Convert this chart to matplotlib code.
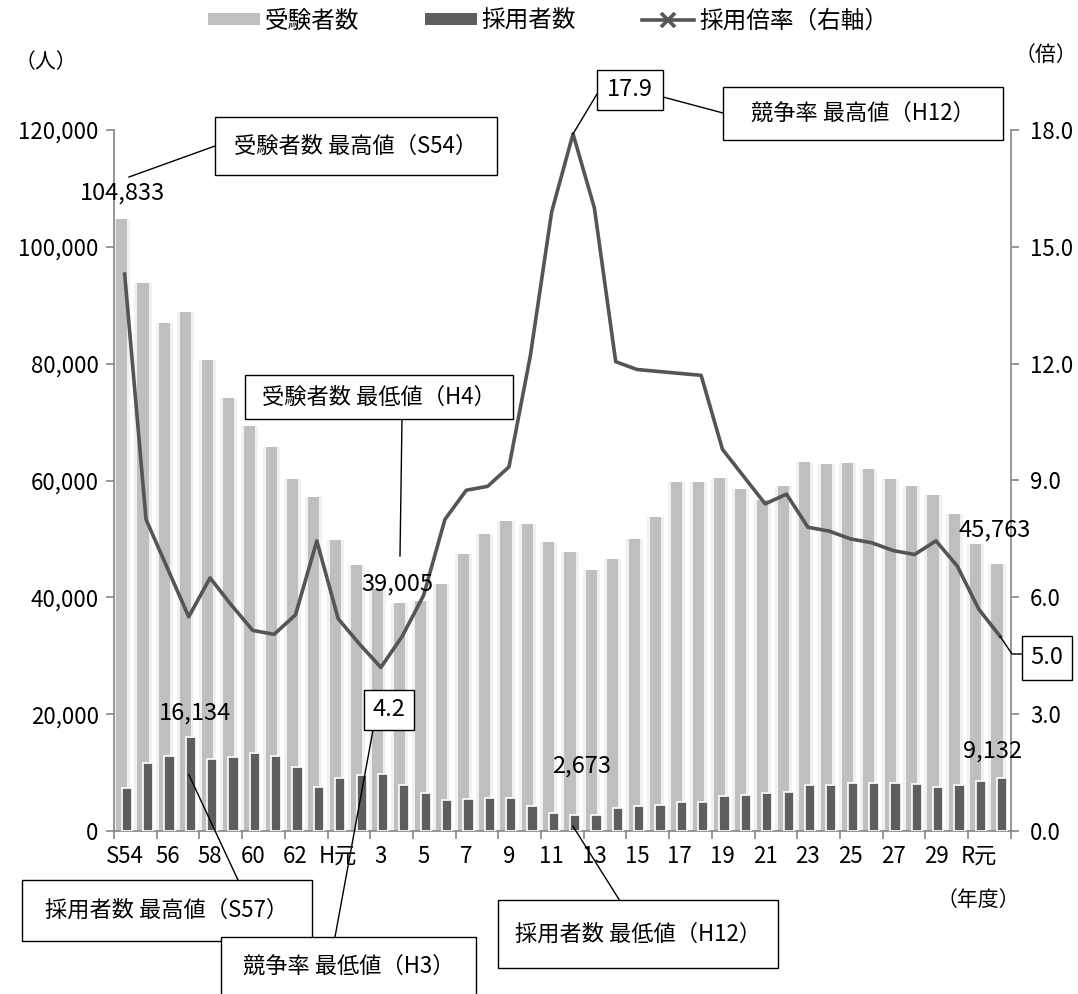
import numpy as np
import matplotlib
matplotlib.use("Agg")
import matplotlib.pyplot as plt
from matplotlib.patches import Patch, Rectangle
from matplotlib.lines import Line2D
from matplotlib.ticker import FuncFormatter

plt.rcParams["font.family"] = ["Noto Sans CJK JP", "DejaVu Sans"]
plt.rcParams["font.size"] = 15

# --- data (S54 ... R元, one value per year) ---
tick_labels = ["S54", "56", "58", "60", "62", "H元", "3", "5", "7", "9", "11",
               "13", "15", "17", "19", "21", "23", "25", "27", "29", "R元"]
applicants = [104833, 93800, 86900, 88900, 80600, 74200, 69300, 65700, 60300, 57100,
              49800, 45600, 41500, 39005, 39300, 42300, 47400, 50900, 53000, 52500,
              49500, 47800, 44700, 46500, 50000, 53800, 59800, 59800, 60500, 58600,
              56600, 59000, 63100, 62900, 63000, 62000, 60300, 59100, 57500, 54200,
              49100, 45763]
hires = [7300, 11600, 12900, 16134, 12400, 12700, 13400, 12900, 10900, 7600,
         9100, 9600, 9800, 7800, 6500, 5300, 5400, 5700, 5600, 4200,
         3050, 2673, 2800, 3900, 4200, 4500, 5000, 5000, 6000, 6200,
         6500, 6600, 7800, 7900, 8200, 8200, 8200, 8000, 7500, 7800,
         8600, 9132]
ratio = [14.3, 8.0, 6.75, 5.5, 6.5, 5.8, 5.15, 5.05, 5.55, 7.45,
         5.45, 4.8, 4.2, 5.0, 6.05, 8.0, 8.75, 8.85, 9.35, 12.2,
         15.9, 17.9, 16.0, 12.05, 11.85, 11.8, 11.75, 11.7, 9.8, 9.1,
         8.4, 8.65, 7.8, 7.7, 7.5, 7.4, 7.2, 7.1, 7.45, 6.8,
         5.7, 5.0]

W, H = 1078, 994
LIGHT = "#BFBFBF"
DARK = "#555555"
BAR_DARK = "#5E5E5E"
AXIS = "#868686"
FS_TICK = 16
FS_LABEL = 17
FS_BOX = 16


def fx(x):
    return x / W


def fy(y):
    return 1 - y / H


fig = plt.figure(figsize=(W / 100, H / 100), dpi=100)
ax = fig.add_axes([fx(114), fy(831), (1010.7 - 114) / W, (831 - 130) / H])
ax2 = ax.twinx()

x = np.arange(len(applicants))
# soft glow behind the light bars, then the bars themselves
ax.bar(x - 0.14, applicants, width=0.80, color="#F1F1F1", zorder=1)
ax.bar(x - 0.14, applicants, width=0.52, color=LIGHT, zorder=2)
ax.bar(x + 0.10, hires, width=0.48, color=BAR_DARK, edgecolor="white", linewidth=1.2, zorder=3)
ax2.plot(x, ratio, color=DARK, linewidth=2.6, zorder=4)

ax.set_xlim(-0.5, len(applicants) - 0.5)
ax.set_ylim(0, 120000)
ax2.set_ylim(0, 18)

ax.set_yticks(np.arange(0, 120001, 20000))
ax.yaxis.set_major_formatter(FuncFormatter(lambda v, p: f"{v:,.0f}"))
ax2.set_yticks(np.arange(0, 18.01, 3))
ax2.yaxis.set_major_formatter(FuncFormatter(lambda v, p: f"{v:.1f}"))

ax.set_xticks(np.arange(-0.5, len(applicants), 2))
ax.set_xticklabels([])
ax.set_xticks(np.arange(0, 41, 2), minor=True)
ax.set_xticklabels(tick_labels, minor=True)
ax.tick_params(axis="x", which="major", direction="out", length=6, color=AXIS, width=1.2)
ax.tick_params(axis="x", which="minor", length=0, pad=10, labelsize=FS_TICK)
ax.tick_params(axis="y", direction="out", length=6, color=AXIS, width=1.2, pad=5, labelsize=FS_TICK)
ax2.tick_params(axis="y", direction="out", length=6, color=AXIS, width=1.2, pad=8, labelsize=FS_TICK)

for a in (ax, ax2):
    a.spines["top"].set_visible(False)
    for s in ("left", "right", "bottom"):
        a.spines[s].set_color(AXIS)
        a.spines[s].set_linewidth(1.2)
ax.spines["right"].set_visible(False)
ax2.spines["left"].set_visible(False)
ax2.spines["bottom"].set_visible(False)

# legend on top
handles = [
    Patch(facecolor=LIGHT, edgecolor="none"),
    Patch(facecolor=BAR_DARK, edgecolor="none"),
    Line2D([], [], color=DARK, linewidth=2.6, marker="x", markersize=10, markeredgewidth=2.6),
]
fig.legend(handles, ["受験者数", "採用者数", "採用倍率（右軸）"], loc="center",
           bbox_to_anchor=(fx(548), fy(21)), ncol=3, frameon=False,
           handlelength=2.2, handleheight=0.42, columnspacing=2.8, handletextpad=0.2,
           fontsize=17)

fig.text(fx(46), fy(62), "（人）", ha="center", va="center", fontsize=15)
fig.text(fx(1046), fy(55), "（倍）", ha="center", va="center", fontsize=15)
fig.text(fx(978), fy(900), "（年度）", ha="center", va="center", fontsize=15)


def box(x0, y0, x1, y1, text, size=FS_BOX):
    fig.add_artist(Rectangle((fx(x0), fy(y1)), (x1 - x0) / W, (y1 - y0) / H,
                             transform=fig.transFigure, facecolor="white",
                             edgecolor="black", linewidth=1.0, zorder=5))
    fig.text(fx((x0 + x1) / 2), fy((y0 + y1) / 2), text, ha="center", va="center",
             fontsize=size, zorder=6)


def label(xp, yp, text):
    fig.text(fx(xp), fy(yp), text, ha="center", va="center", fontsize=FS_LABEL, zorder=6)


def leader(points):
    xs = [fx(p[0]) for p in points]
    ys = [fy(p[1]) for p in points]
    fig.add_artist(Line2D(xs, ys, transform=fig.transFigure, color="black",
                          linewidth=1.0, zorder=4))


def data_px(axis, k, v):
    dx, dy = axis.transData.transform((k, v))
    return dx, H - dy


# callouts
leader([(215, 146), (129, 177)])
box(215, 117, 497, 175, "受験者数 最高値（S54）")
label(122, 193, f"{applicants[0]:,}")

leader([(402, 419), (400, 556)])
box(245, 375, 513, 419, "受験者数 最低値（H4）")
label(397, 584, f"{applicants[13]:,}")

label(995, 530, f"{applicants[-1]:,}")

leader([data_px(ax2, 21, ratio[21]), (597, 94)])
leader([(663, 97), (723, 113)])
box(597, 70, 663, 110, f"{ratio[21]:.1f}", size=17)
box(723, 87, 1003, 140, "競争率 最高値（H12）")

leader([(238, 880), data_px(ax, 3, hires[3] * 0.6)])
box(22, 880, 312, 941, "採用者数 最高値（S57）")
label(195, 713, f"{hires[3]:,}")

leader([(335, 937), (373, 730)])
box(364, 690, 414, 730, f"{ratio[12]:.1f}", size=17)
box(221, 937, 476, 996, "競争率 最低値（H3）")

leader([(620, 901), data_px(ax, 21, hires[21] * 0.3)])
box(498, 900, 778, 968, "採用者数 最低値（H12）")
label(582, 766, f"{hires[21]:,}")

label(993, 751, f"{hires[-1]:,}")

leader([data_px(ax2, 41, ratio[-1]), (1012, 654), (1022, 654)])
box(1022, 636, 1072, 680, f"{ratio[-1]:.1f}", size=17)

fig.savefig("out.png", dpi=100)
